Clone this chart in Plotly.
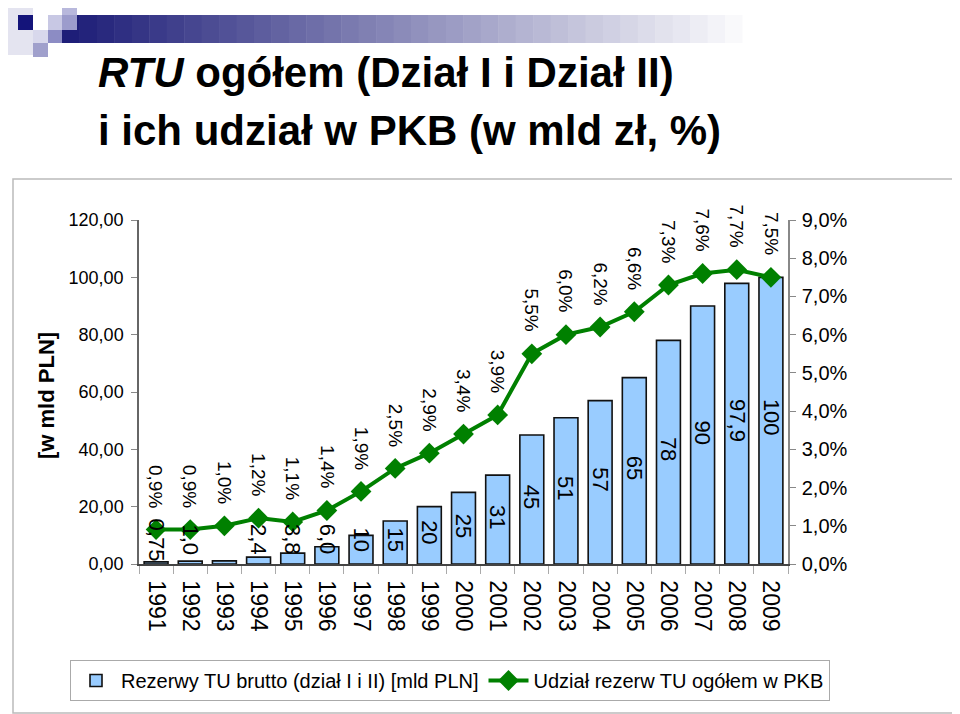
import plotly.graph_objects as go

years = [str(y) for y in range(1991, 2010)]
reserves = [0.75, 1.0, 1.1, 2.4, 3.8, 6.0, 10, 15, 20, 25, 31, 45, 51, 57, 65, 78, 90, 97.9, 100]
reserve_labels = ["0,75", "1,0", "", "2,4", "3,8", "6,0", "10", "15", "20", "25", "31",
                  "45", "51", "57", "65", "78", "90", "97,9", "100"]
share_pct = [0.9, 0.9, 1.0, 1.2, 1.1, 1.4, 1.9, 2.5, 2.9, 3.4, 3.9, 5.5, 6.0, 6.2, 6.6, 7.3, 7.6, 7.7, 7.5]
left_ticks = [0, 20, 40, 60, 80, 100, 120]
right_ticks = [0, 1, 2, 3, 4, 5, 6, 7, 8, 9]

FONT = "Liberation Sans, Arial, sans-serif"
OFF = 8  # browser body margin
W, H = 960 - OFF, 714 - OFF
# plot area in page pixels
PL, PR, PT, PB = 139, 788, 220, 564
L, R, T, B = PL - OFF, PR - OFF, PT - OFF, PB - OFF


def px2x(px):
    return (px - PL) / (PR - PL)


def py2y(py):
    return (PB - py) / (PB - PT)


def comma(v, nd=1):
    return ("%.*f" % (nd, v)).replace(".", ",")


fig = go.Figure()
fig.add_trace(go.Bar(
    x=years, y=reserves, name="Rezerwy TU brutto (dział I i II) [mld PLN]",
    marker=dict(color="#99CCFF", line=dict(color="#111111", width=1.6)),
    width=0.7, yaxis="y",
))
fig.add_trace(go.Scatter(
    x=years, y=share_pct, name="Udział rezerw TU ogółem w PKB", yaxis="y2",
    mode="lines+markers", line=dict(color="#008000", width=4),
    marker=dict(symbol="diamond", size=16, color="#008000"),
))

annotations = []
for i, (v, lab) in enumerate(zip(reserves, reserve_labels)):
    if lab:
        annotations.append(dict(x=i, y=max(v / 2 + 1, 8.5), xref="x", yref="y", text=lab,
                                textangle=90, showarrow=False,
                                font=dict(family=FONT, size=22, color="black"),
                                xanchor="center", yanchor="middle"))
for i, p in enumerate(share_pct):
    annotations.append(dict(x=i, y=p, xref="x", yref="y2",
                            text=comma(p) + "%",
                            textangle=90, showarrow=False, yshift=20,
                            font=dict(family=FONT, size=19, color="black"),
                            xanchor="center", yanchor="bottom"))
# titles
annotations.append(dict(x=px2x(96), y=py2y(73), xref="paper", yref="paper",
                        text="<b><i>RTU</i> ogółem (Dział I i Dział II)</b>",
                        showarrow=False, xanchor="left", yanchor="middle",
                        font=dict(family=FONT, size=42, color="black")))
annotations.append(dict(x=px2x(96), y=py2y(130), xref="paper", yref="paper",
                        text="<b>i ich udział w PKB (w mld zł, %)</b>",
                        showarrow=False, xanchor="left", yanchor="middle",
                        font=dict(family=FONT, size=42, color="black")))
annotations.append(dict(x=px2x(46), y=py2y(396), xref="paper", yref="paper",
                        text="<b>[w mld PLN]</b>", textangle=-90, showarrow=False,
                        xanchor="center", yanchor="middle",
                        font=dict(family=FONT, size=22, color="black")))

shapes = []
# outer chart frame
shapes.append(dict(type="rect", xref="paper", yref="paper",
                   x0=px2x(13), x1=px2x(957), y0=py2y(713), y1=py2y(179),
                   line=dict(color="#BBBBBB", width=1.5), fillcolor="rgba(0,0,0,0)", layer="below"))
# decorative gradient bar at top
n = 40
x_start, x_end = 62, 760
c0 = (30, 30, 120)
for i in range(n):
    t = i / (n - 1)
    c = tuple(int(c0[k] + (255 - c0[k]) * t) for k in range(3))
    xa = x_start + (x_end - x_start) * i / n
    xb = x_start + (x_end - x_start) * (i + 1) / n + 0.5
    shapes.append(dict(type="rect", xref="paper", yref="paper",
                       x0=px2x(xa), x1=px2x(xb), y0=py2y(43), y1=py2y(15),
                       line=dict(width=0), fillcolor="rgb(%d,%d,%d)" % c, layer="below"))
# logo squares
squares = [
    (8, 8, 33, 55, "#E4E4F0"),
    (33, 30, 48, 43, "#D8D8EC"),
    (33, 43, 48, 57, "#A0A0CC"),
    (48, 15, 63, 30, "#C8C8E4"),
    (48, 30, 62, 43, "#8C8CC4"),
    (62, 8, 77, 15, "#B8B8DC"),
    (62, 15, 77, 30, "#9C9CCC"),
    (18, 15, 33, 30, "#14147A"),
]
for x0, y0, x1, y1, col in squares:
    shapes.append(dict(type="rect", xref="paper", yref="paper",
                       x0=px2x(x0), x1=px2x(x1), y0=py2y(y1), y1=py2y(y0),
                       line=dict(width=0), fillcolor=col, layer="below"))

fig.update_layout(
    width=W, height=H,
    margin=dict(l=L, r=W - R, t=T, b=H - B, pad=0),
    paper_bgcolor="white", plot_bgcolor="white",
    separators=", ",
    font=dict(family=FONT, size=20, color="black"),
    showlegend=True,
    legend=dict(orientation="h", x=px2x(70), y=py2y(660), xanchor="left", yanchor="top",
                bordercolor="#AAAAAA", borderwidth=1, font=dict(family=FONT, size=20),
                itemwidth=40, tracegroupgap=0),
    xaxis=dict(type="category", range=[-0.5, len(years) - 0.5], tickangle=90,
               showline=True, linecolor="#444444", linewidth=1.5,
               ticks="outside", tickson="boundaries", ticklen=8, tickcolor="#AAAAAA",
               ticklabelstandoff=10,
               showgrid=False, tickfont=dict(family=FONT, size=23)),
    yaxis=dict(range=[0, 120], tickvals=left_ticks, ticktext=[comma(v, 2) for v in left_ticks],
               showline=True, linecolor="#666666", linewidth=1.5, ticks="outside", ticklen=6,
               tickcolor="#888888", showgrid=False, zeroline=False, ticklabelstandoff=4,
               tickfont=dict(family=FONT, size=18)),
    yaxis2=dict(range=[0, 9], tickvals=right_ticks, ticktext=[comma(v) + "%" for v in right_ticks],
                overlaying="y", side="right", showline=True, linecolor="#888888", linewidth=1.5,
                ticks="outside", ticklen=6, tickcolor="#888888", showgrid=False, zeroline=False,
                ticklabelstandoff=2, tickfont=dict(family=FONT, size=20)),
    annotations=annotations,
    shapes=shapes,
)

fig.write_html("out.html")
